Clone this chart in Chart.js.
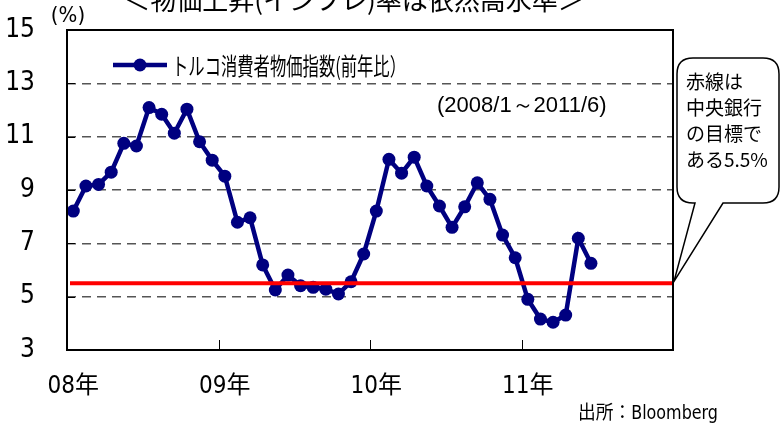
<!DOCTYPE html>
<html>
<head>
<meta charset="utf-8">
<script src="https://cdn.jsdelivr.net/npm/chart.js@4.4.1/dist/chart.umd.min.js"></script>
<style>
  html, body { margin: 0; padding: 0; background: #fff; }
  canvas { display: block; }
</style>
</head>
<body>
<canvas id="cpiChart" width="781" height="429"></canvas>
<script>
// Turkey CPI, y/y %, monthly 2008/1 - 2011/6
const yearLabels = ['08年', '09年', '10年', '11年'];
const cpiValues = [
  8.21, 9.15, 9.21, 9.67, 10.75, 10.65, 12.09, 11.84, 11.13, 12.03, 10.81, 10.12,
  9.52, 7.79, 7.96, 6.19, 5.25, 5.81, 5.41, 5.35, 5.28, 5.10, 5.56, 6.60,
  8.21, 10.15, 9.63, 10.23, 9.15, 8.40, 7.60, 8.37, 9.27, 8.65, 7.31, 6.46,
  4.90, 4.16, 4.04, 4.31, 7.19, 6.25
];
const targetRate = 5.5;
const yTicks = [3, 5, 7, 9, 11, 13, 15];

const seriesName = 'トルコ消費者物価指数(前年比）';
const titleText = '＜物価上昇(インフレ)率は依然高水準＞';
const periodText = '(2008/1～2011/6)';
const noteLines = ['赤線は', '中央銀行', 'の目標で', 'ある5.5%'];
const sourceText = '出所：Bloomberg';

// 4 years of monthly slots on the x axis
const monthLabels = [];
for (let y = 2008; y <= 2011; y++) {
  for (let m = 1; m <= 12; m++) monthLabels.push(y + '/' + m);
}

const NARROW = "'Liberation Sans Narrow', 'DejaVu Sans Condensed', 'Noto Sans CJK JP', sans-serif";
const JP = "'Noto Sans CJK JP', sans-serif";
const NAVY = '#000080';

const decorations = {
  id: 'decorations',
  beforeDatasetsDraw(chart) {
    const { ctx, chartArea: a, scales } = chart;
    ctx.save();
    // short tick marks inside the plot at year boundaries
    ctx.strokeStyle = '#000';
    ctx.lineWidth = 1;
    const slot = (a.right - a.left) / monthLabels.length;
    for (let i = 12; i < monthLabels.length; i += 12) {
      const x = Math.round(scales.x.getPixelForValue(i) - slot / 2) + 0.5;
      ctx.beginPath();
      ctx.moveTo(x, a.bottom);
      ctx.lineTo(x, a.bottom - 10);
      ctx.stroke();
    }
    // solid short ticks on y axis
    yTicks.forEach(v => {
      const y = Math.round(scales.y.getPixelForValue(v)) + 0.5;
      ctx.beginPath();
      ctx.moveTo(a.left, y);
      ctx.lineTo(a.left + 8, y);
      ctx.stroke();
    });
    ctx.restore();
  },
  afterDatasetsDraw(chart) {
    const { ctx, chartArea: a, scales } = chart;
    ctx.save();
    // central bank target line
    const ty = scales.y.getPixelForValue(targetRate);
    ctx.strokeStyle = '#ff0000';
    ctx.lineWidth = 4;
    ctx.beginPath();
    ctx.moveTo(a.left + 3, ty);
    ctx.lineTo(a.right, ty);
    ctx.stroke();
    ctx.restore();
  },
  afterDraw(chart) {
    const { ctx, chartArea: a, scales } = chart;
    ctx.save();
    // plot frame
    ctx.strokeStyle = '#000';
    ctx.lineWidth = 2;
    ctx.strokeRect(a.left, a.top, a.right - a.left, a.bottom - a.top);

    // legend inside plot
    ctx.strokeStyle = NAVY;
    ctx.fillStyle = NAVY;
    ctx.lineWidth = 4.5;
    ctx.beginPath();
    ctx.moveTo(113, 65);
    ctx.lineTo(167, 65);
    ctx.stroke();
    ctx.beginPath();
    ctx.arc(140, 65, 6.5, 0, Math.PI * 2);
    ctx.fill();
    ctx.fillStyle = '#000';
    ctx.font = '24px ' + JP;
    ctx.textBaseline = 'middle';
    ctx.textAlign = 'left';
    ctx.fillText(seriesName, 172, 66, 234);

    ctx.font = '22px ' + "'Liberation Sans', Arial, sans-serif";
    ctx.fillText(periodText, 437, 106, 213);

    // title (clipped at top of image)
    ctx.font = '26px ' + JP;
    ctx.textAlign = 'center';
    ctx.fillText(titleText, 354, 0, 472);

    // (%) unit
    ctx.font = '22px ' + NARROW;
    ctx.fillText('(%)', 68, 16);

    // source
    ctx.textAlign = 'left';
    ctx.font = '19px ' + NARROW;
    ctx.fillText(sourceText, 578, 414, 140);

    // callout balloon
    const tipY = scales.y.getPixelForValue(targetRate);
    const L = 677, T = 58, R = 779, B = 203, r = 16;
    ctx.beginPath();
    ctx.moveTo(L + r, T);
    ctx.lineTo(R - r, T);
    ctx.quadraticCurveTo(R, T, R, T + r);
    ctx.lineTo(R, B - r);
    ctx.quadraticCurveTo(R, B, R - r, B);
    ctx.lineTo(723, B);
    ctx.lineTo(a.right + 1, tipY - 2);
    ctx.lineTo(695, B);
    ctx.lineTo(L + r, B);
    ctx.quadraticCurveTo(L, B, L, B - r);
    ctx.lineTo(L, T + r);
    ctx.quadraticCurveTo(L, T, L + r, T);
    ctx.closePath();
    ctx.fillStyle = '#fff';
    ctx.fill();
    ctx.strokeStyle = '#000';
    ctx.lineWidth = 1.5;
    ctx.stroke();

    ctx.fillStyle = '#000';
    ctx.font = '19px ' + JP;
    ctx.textAlign = 'left';
    noteLines.forEach((t, i) => {
      ctx.fillText(t, 686, 82 + i * 26, 86);
    });
    ctx.restore();
  }
};

const chart = new Chart(document.getElementById('cpiChart'), {
  type: 'line',
  data: {
    labels: monthLabels,
    datasets: [{
      label: seriesName,
      data: cpiValues,
      borderColor: NAVY,
      backgroundColor: NAVY,
      borderWidth: 4.5,
      pointRadius: 6.5,
      pointBorderWidth: 0,
      pointBackgroundColor: NAVY,
      tension: 0,
      fill: false
    }]
  },
  options: {
    responsive: false,
    animation: false,
    devicePixelRatio: 1,
    layout: { padding: { top: 30, right: 108, left: 0, bottom: 0 } },
    plugins: {
      legend: { display: false },
      tooltip: { enabled: false },
      title: { display: false }
    },
    scales: {
      x: {
        type: 'category',
        offset: true,
        grid: { display: false, drawTicks: false },
        border: { display: false },
        ticks: {
          autoSkip: false,
          maxRotation: 0,
          padding: 22,
          color: '#000',
          font: { family: NARROW, size: 24 },
          callback: (v, i) => (i % 12 === 0 ? yearLabels[i / 12] : '')
        },
        afterFit: s => { s.height = 79; s.paddingLeft = 0; s.paddingRight = 0; }
      },
      y: {
        min: 3,
        max: 15,
        afterBuildTicks: s => { s.ticks = yTicks.map(v => ({ value: v })); },
        grid: {
          drawTicks: false,
          color: c => (c.tick && (c.tick.value === 3 || c.tick.value === 15)) ? 'rgba(0,0,0,0)' : '#555',
          lineWidth: 1.5
        },
        border: { display: false, dash: [9, 6] },
        ticks: {
          padding: 32,
          color: '#000',
          font: { family: NARROW, size: 26 }
        },
        afterFit: s => { s.width = 67; s.paddingTop = 0; s.paddingBottom = 0; }
      }
    }
  },
  plugins: [decorations]
});
</script>
</body>
</html>
